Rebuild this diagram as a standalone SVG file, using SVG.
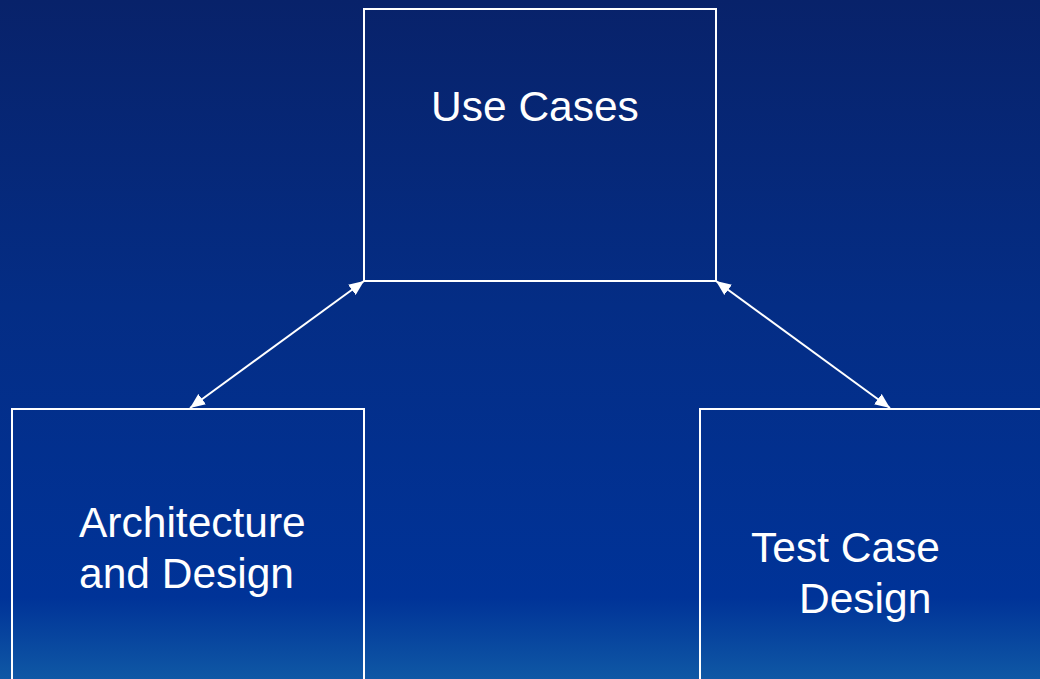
<svg xmlns="http://www.w3.org/2000/svg" width="1040" height="679" viewBox="0 0 1040 679">
  <style>
    .box { fill: none; stroke: #ffffff; stroke-width: 2; }
    .label { fill: #ffffff; font-family: "Liberation Sans", Arial, sans-serif; font-size: 42.5px; }
    .link { stroke: #ffffff; stroke-width: 2; fill: none; marker-start: url(#head); marker-end: url(#head); }
  </style>
  <defs>
    <linearGradient id="bg" x1="0" y1="0" x2="0" y2="1">
      <stop offset="0" stop-color="#08226a"/>
      <stop offset="0.45" stop-color="#042d85"/>
      <stop offset="0.88" stop-color="#003398"/>
      <stop offset="1" stop-color="#0f58a5"/>
    </linearGradient>
    <!-- solid triangular arrowhead shared by both ends of each link -->
    <marker id="head" viewBox="0 0 14 12" refX="14" refY="6" markerWidth="15" markerHeight="13" markerUnits="userSpaceOnUse" orient="auto-start-reverse">
      <path d="M0,0 L14,6 L0,12 Z" fill="#ffffff"/>
    </marker>
  </defs>

  <rect x="0" y="0" width="1040" height="679" fill="url(#bg)"/>

  <g id="use-cases">
    <rect class="box" x="364" y="9" width="352" height="272"/>
    <text class="label" x="431" y="121">Use Cases</text>
  </g>

  <g id="architecture-design">
    <rect class="box" x="12" y="409" width="352" height="290"/>
    <text class="label" x="79" y="537">Architecture</text>
    <text class="label" x="79" y="588">and Design</text>
  </g>

  <g id="test-case-design">
    <rect class="box" x="700" y="409" width="360" height="290"/>
    <text class="label" x="751" y="562">Test Case</text>
    <text class="label" x="799" y="613">Design</text>
  </g>

  <g id="connectors">
    <line class="link" x1="364" y1="281" x2="190" y2="408"/>
    <line class="link" x1="716" y1="281" x2="890" y2="408"/>
  </g>
</svg>
